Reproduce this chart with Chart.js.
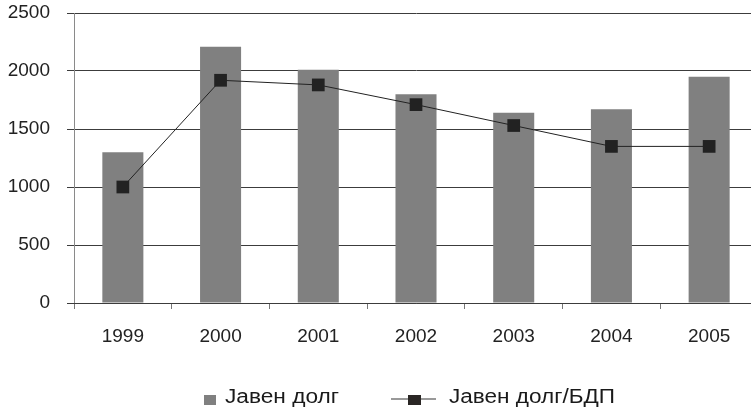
<!DOCTYPE html>
<html>
<head>
<meta charset="utf-8">
<script src="https://cdn.jsdelivr.net/npm/chart.js@4"></script>
<style>
  html, body { margin:0; padding:0; background:#fff; overflow:hidden; }
  #wrap { width:767px; height:409px; }
</style>
</head>
<body>
<div id="wrap"><canvas id="debtChart" width="767" height="409"></canvas></div>
<script>
// data
const years     = ['1999', '2000', '2001', '2002', '2003', '2004', '2005'];
const debt      = [1300, 2210, 2010, 1800, 1640, 1670, 1950];
const debtToGdp = [1000, 1920, 1880, 1710, 1530, 1350, 1350];
const seriesNames = ['Јавен долг', 'Јавен долг/БДП'];

const BAR_COL  = '#808080';
const LINE_COL = '#222222';
const TICK_FONT = { family:'"Liberation Sans", Arial, sans-serif', size:19 };

// draws text stretched to a given width (the legend font in the source is wide)
function wideText(ctx, txt, x, y, w) {
  const k = w / ctx.measureText(txt).width;
  ctx.save();
  ctx.translate(x, y);
  ctx.scale(k, 1);
  ctx.fillText(txt, 0, 0);
  ctx.restore();
}

// legend drawn by hand: bar swatch + line-with-marker swatch
const legendPlugin = {
  id: 'manualLegend',
  afterDraw(chart) {
    const ctx = chart.ctx;
    const y = 400;
    ctx.save();
    ctx.font = '19.5px "Liberation Sans", Arial, sans-serif';
    ctx.textBaseline = 'alphabetic';

    ctx.fillStyle = BAR_COL;
    ctx.fillRect(204, y - 5, 12, 10);
    ctx.fillStyle = '#1a1a1a';
    wideText(ctx, seriesNames[0], 225, y + 3, 114);

    ctx.strokeStyle = '#777';
    ctx.lineWidth = 1.5;
    ctx.beginPath(); ctx.moveTo(391, y - 1); ctx.lineTo(436, y - 1); ctx.stroke();
    ctx.fillStyle = '#2a2624';
    ctx.fillRect(408, y - 5, 13, 10);
    ctx.fillStyle = '#1a1a1a';
    wideText(ctx, seriesNames[1], 449, y + 3, 166);
    ctx.restore();
  }
};

new Chart(document.getElementById('debtChart').getContext('2d'), {
  data: {
    labels: years,
    datasets: [
      { type:'line', label:seriesNames[1], data:debtToGdp, order:0,
        borderColor:LINE_COL, borderWidth:1, backgroundColor:LINE_COL,
        pointStyle:'rect', pointRadius:9, pointBorderWidth:0, tension:0 },
      { type:'bar', label:seriesNames[0], data:debt, order:1,
        backgroundColor:BAR_COL, borderWidth:0,
        barPercentage:0.42, categoryPercentage:1 },
    ],
  },
  options: {
    responsive:false,
    animation:false,
    layout:{ padding:{ top:13, right:0, bottom:56, left:0 } },
    scales: {
      y: { min:0, max:2500,
        afterFit: s => { s.width = 74; s.paddingTop = 0; s.paddingBottom = 0; },
        grid:{ color:'#3c3c3c', lineWidth:1, tickLength:7, tickColor:'#3c3c3c' },
        border:{ color:'#8a8a8a', width:1 },
        ticks:{ stepSize:500, color:'#222', padding:17, callback: v => String(v), font:TICK_FONT } },
      x: {
        afterFit: s => { s.height = 50; s.paddingLeft = 0; s.paddingRight = 0; },
        grid:{ offset:true, drawOnChartArea:false, tickLength:6, color:'#777', tickColor:'#777' },
        border:{ color:'#3c3c3c', width:1 },
        ticks:{ color:'#222', padding:16, font:TICK_FONT } },
    },
    plugins:{ legend:{ display:false }, tooltip:{ enabled:false } },
  },
  plugins:[legendPlugin],
});
</script>
</body>
</html>
